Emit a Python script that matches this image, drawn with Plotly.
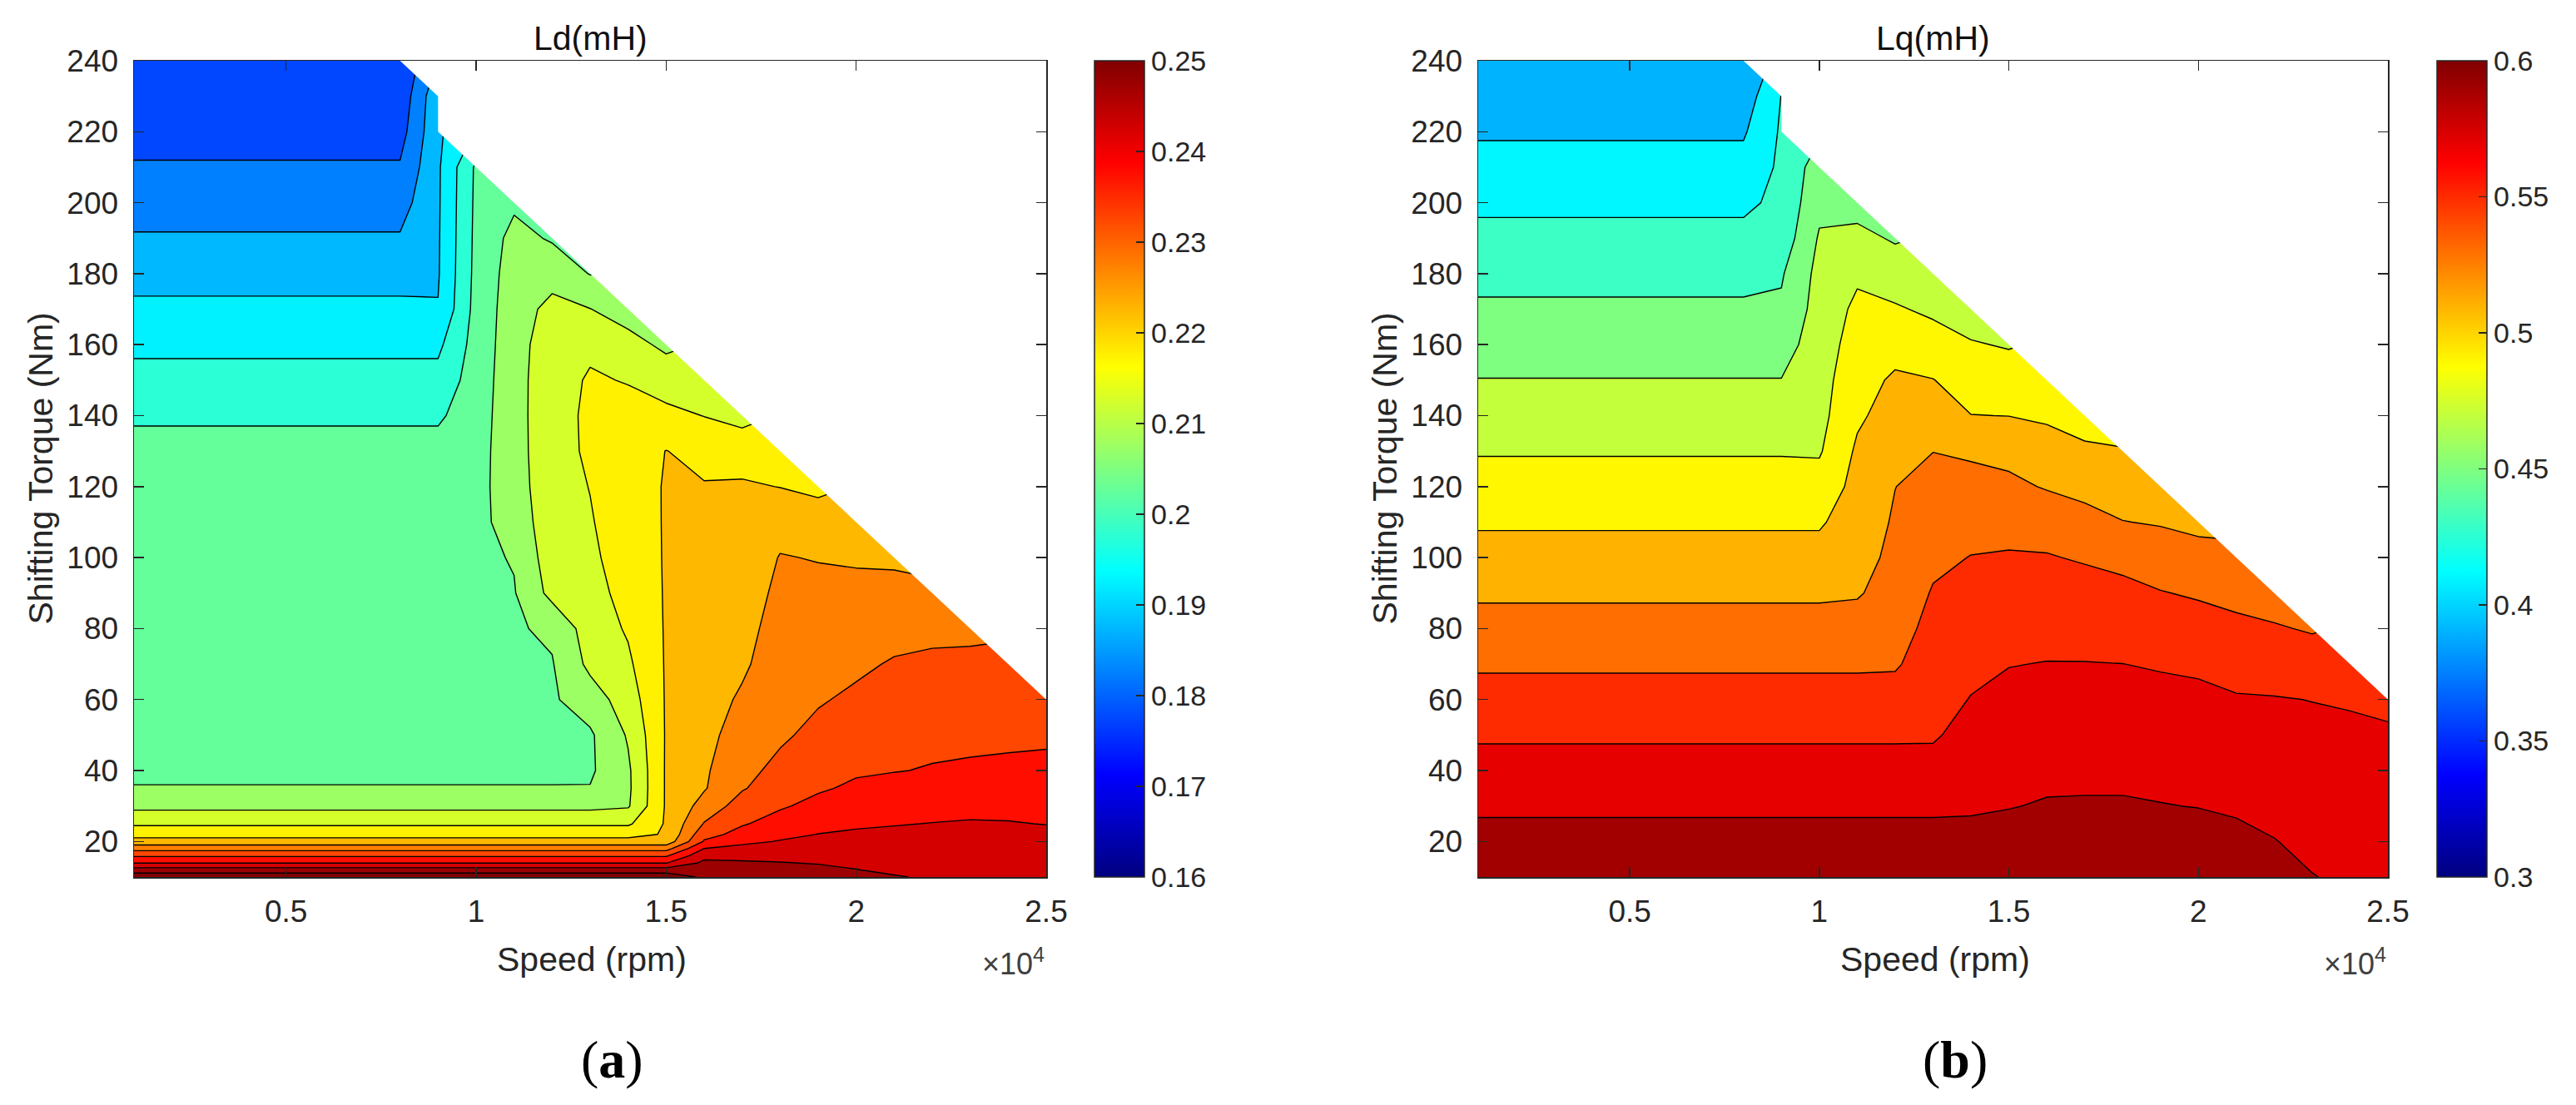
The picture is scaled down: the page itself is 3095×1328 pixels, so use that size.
import plotly.graph_objects as go

# ---------------- data ----------------
speeds = [1000, 8000, 9000, 10000, 11000, 12000, 13000, 14000, 15000, 16000,
          17000, 18000, 19000, 20000, 21000, 22000, 23000, 24000, 25000]
torque_limit = [240, 240, 230, 210, 200, 190, 180, 170, 160, 150,
                140, 130, 120, 110, 100, 90, 80, 70, 60]

ld_torques = [10, 12, 14, 16, 18, 20, 22, 25, 30, 35, 40, 50, 60, 70, 80, 90, 100,
              110, 120, 130, 140, 150, 160, 170, 180, 190, 200, 210, 220, 230, 240]
lq_torques = [10, 20, 30, 40, 50, 60, 70, 80, 90, 100, 110, 120, 130, 140, 150,
              160, 170, 180, 190, 200, 210, 220, 230, 240]

# Ld (mH), one list per speed column, from 10 Nm up to the torque limit
ld_1000 = [0.2535, 0.2473, 0.2397, 0.2344, 0.2282, 0.2219, 0.2183, 0.2143, 0.2087, 0.2051,
           0.2046, 0.2044, 0.2041, 0.2038, 0.2035, 0.2032, 0.2029, 0.2026, 0.2022, 0.2018,
           0.19925, 0.19665, 0.19393, 0.19104, 0.18822, 0.18544, 0.18294, 0.18049, 0.1780, 0.1765, 0.1755]
ld_8000 = [0.2535, 0.2473, 0.2397, 0.2344, 0.2282, 0.2219, 0.2183, 0.2143, 0.2087, 0.2051,
           0.2046, 0.2044, 0.2041, 0.2038, 0.2035, 0.2032, 0.2029, 0.2026, 0.2022, 0.2018,
           0.19925, 0.19665, 0.19393, 0.19104, 0.18822, 0.18544, 0.18294, 0.18049, 0.1780, 0.1765, 0.1755]
ld_9000 = [0.2535, 0.2473, 0.2397, 0.2344, 0.2282, 0.2219, 0.2183, 0.2143, 0.2087, 0.2051,
           0.2046, 0.2044, 0.2041, 0.2038, 0.2035, 0.2032, 0.2029, 0.2026, 0.2022, 0.2018,
           0.19925, 0.19665, 0.19393, 0.1902, 0.1896, 0.1895, 0.1894, 0.1893, 0.1891, 0.1889]
ld_10000 = [0.2535, 0.2473, 0.2397, 0.2344, 0.2282, 0.2219, 0.2183, 0.2143, 0.2087, 0.2051,
            0.2046, 0.2045, 0.2044, 0.2043, 0.2042, 0.2041, 0.2040, 0.2038, 0.2035, 0.2032,
            0.2028, 0.2024, 0.2020, 0.2017, 0.2014, 0.2012, 0.2010, 0.2008]
ld_11000 = [0.2535, 0.2473, 0.2397, 0.2344, 0.2282, 0.2219, 0.2183, 0.2143, 0.2087, 0.2051,
            0.2046, 0.2045, 0.2044, 0.2044, 0.2045, 0.2047, 0.2053, 0.2068, 0.2076, 0.2079,
            0.2080, 0.2080, 0.2079, 0.2077, 0.2073, 0.2065, 0.2042]
ld_12000 = [0.2535, 0.2473, 0.2397, 0.2344, 0.2282, 0.2219, 0.2183, 0.2143, 0.2087, 0.2051,
            0.2046, 0.2044, 0.2044, 0.2047, 0.2058, 0.2115, 0.2128, 0.2132, 0.2134, 0.2135,
            0.2135, 0.2134, 0.2129, 0.2114, 0.2082, 0.2045]
ld_13000 = [0.2535, 0.2473, 0.2397, 0.2344, 0.2282, 0.2219, 0.2183, 0.2143, 0.2087, 0.2052,
            0.2043, 0.2043, 0.2075, 0.2112, 0.2125, 0.2135, 0.2142, 0.2147, 0.2151, 0.2156,
            0.2157, 0.2154, 0.2143, 0.2101, 0.2048]
ld_14000 = [0.2535, 0.2473, 0.2397, 0.2344, 0.2282, 0.2219, 0.2183, 0.2143, 0.2095, 0.2091,
            0.2092, 0.2105, 0.2125, 0.2142, 0.2155, 0.2164, 0.2170, 0.2173, 0.2174, 0.2171,
            0.2163, 0.2148, 0.2117, 0.2078]
ld_15000 = [0.2535, 0.2473, 0.2397, 0.2344, 0.2282, 0.2219, 0.2205, 0.2205, 0.2205, 0.2205,
            0.2205, 0.2204, 0.2204, 0.2204, 0.2204, 0.2204, 0.2204, 0.2204, 0.2204, 0.2201,
            0.2162, 0.2128, 0.2090]
ld_16000 = [0.2490, 0.2475, 0.2460, 0.2436, 0.2401, 0.2355, 0.2333, 0.2303, 0.2269, 0.2246,
            0.2243, 0.2235, 0.2228, 0.2222, 0.2217, 0.2213, 0.2210, 0.2207, 0.2203, 0.2185,
            0.2149, 0.2115]
ld_17000 = [0.2488, 0.2474, 0.2457, 0.2432, 0.2414, 0.2389, 0.2366, 0.2346, 0.2322, 0.2296,
            0.2287, 0.2272, 0.2257, 0.2242, 0.2235, 0.2228, 0.2222, 0.2215, 0.2206, 0.2178,
            0.2135]
ld_18000 = [0.2485, 0.2470, 0.2452, 0.2434, 0.2417, 0.2403, 0.2388, 0.2368, 0.2345, 0.2326,
            0.2312, 0.2293, 0.2285, 0.2277, 0.2268, 0.2260, 0.2252, 0.2235, 0.2199, 0.2175]
ld_19000 = [0.2475, 0.2462, 0.2447, 0.2433, 0.2418, 0.2408, 0.2401, 0.2386, 0.2362, 0.2345,
            0.2335, 0.2312, 0.2296, 0.2285, 0.2274, 0.2262, 0.2248, 0.2222, 0.2190]
ld_20000 = [0.2463, 0.2451, 0.2442, 0.2432, 0.2422, 0.2413, 0.2405, 0.2395, 0.2376, 0.2357,
            0.2345, 0.2327, 0.2308, 0.2292, 0.2278, 0.2262, 0.2245, 0.2225]
ld_21000 = [0.2453, 0.2443, 0.2435, 0.2428, 0.2421, 0.2414, 0.2408, 0.2398, 0.2383, 0.2368,
            0.2348, 0.2335, 0.2322, 0.2304, 0.2285, 0.2265, 0.2242]
ld_22000 = [0.2445, 0.2439, 0.2433, 0.2427, 0.2421, 0.2415, 0.2409, 0.2401, 0.2386, 0.2370,
            0.2353, 0.2338, 0.2328, 0.2312, 0.2285, 0.2255]
ld_23000 = [0.2442, 0.2437, 0.2432, 0.2427, 0.2422, 0.2416, 0.2411, 0.2403, 0.2390, 0.2375,
            0.2356, 0.2340, 0.2326, 0.2310, 0.2290]
ld_24000 = [0.2440, 0.2436, 0.2431, 0.2426, 0.2421, 0.2416, 0.2411, 0.2402, 0.2390, 0.2376,
            0.2358, 0.2342, 0.2330, 0.2315]
ld_25000 = [0.2438, 0.2434, 0.2430, 0.2425, 0.2420, 0.2415, 0.2410, 0.2399, 0.2391, 0.2379,
            0.2362, 0.2342, 0.2332]

# Lq (mH), one list per speed column, from 10 Nm up to the torque limit
lq_1000 = [0.5962, 0.5865, 0.5769, 0.5673, 0.5576, 0.5475, 0.5374, 0.5272, 0.5172, 0.5074, 0.4977, 0.4881,
           0.4786, 0.4695, 0.4605, 0.4517, 0.4430, 0.4342, 0.4253, 0.4162, 0.4069, 0.3977, 0.3890, 0.3805]
lq_8000 = [0.5962, 0.5865, 0.5769, 0.5673, 0.5576, 0.5475, 0.5374, 0.5272, 0.5172, 0.5074, 0.4977, 0.4881,
           0.4786, 0.4695, 0.4605, 0.4517, 0.4430, 0.4342, 0.4253, 0.4162, 0.4069, 0.3977, 0.3890, 0.3805]
lq_9000 = [0.5962, 0.5865, 0.5769, 0.5673, 0.5576, 0.5475, 0.5374, 0.5272, 0.5172, 0.5074, 0.4977, 0.4881,
           0.4786, 0.4695, 0.4605, 0.4517, 0.4430, 0.4380, 0.4280, 0.4245, 0.4235, 0.4225, 0.4205]
lq_10000 = [0.5962, 0.5865, 0.5769, 0.5673, 0.5576, 0.5475, 0.5374, 0.5272, 0.5172, 0.5074, 0.4977, 0.4881,
            0.4780, 0.4740, 0.4720, 0.4700, 0.4680, 0.4660, 0.4620, 0.4550, 0.4500]
lq_11000 = [0.5962, 0.5865, 0.5769, 0.5673, 0.5576, 0.5475, 0.5374, 0.5272, 0.5185, 0.5140, 0.5100, 0.5060,
            0.5030, 0.4970, 0.4935, 0.4885, 0.4840, 0.4770, 0.4650, 0.4530]
lq_12000 = [0.5962, 0.5865, 0.5769, 0.5673, 0.5576, 0.5475, 0.5380, 0.5320, 0.5270, 0.5240, 0.5220, 0.5198,
            0.5140, 0.5080, 0.5025, 0.4940, 0.4820, 0.4700, 0.4580]
lq_13000 = [0.5962, 0.5865, 0.5769, 0.5673, 0.5578, 0.5530, 0.5495, 0.5460, 0.5415, 0.5360, 0.5310, 0.5255,
            0.5198, 0.5105, 0.5005, 0.4885, 0.4765, 0.4655]
lq_14000 = [0.5962, 0.5865, 0.5775, 0.5735, 0.5670, 0.5607, 0.5555, 0.5505, 0.5455, 0.5405, 0.5338, 0.5262,
            0.5174, 0.5003, 0.4915, 0.4815, 0.4705]
lq_15000 = [0.5965, 0.5885, 0.5792, 0.5745, 0.5695, 0.5645, 0.5595, 0.5535, 0.5475, 0.5415, 0.5345, 0.5245,
            0.5140, 0.4998, 0.4895, 0.4785]
lq_16000 = [0.5980, 0.5905, 0.5815, 0.5755, 0.5705, 0.5655, 0.5605, 0.5545, 0.5475, 0.5410, 0.5335, 0.5185,
            0.5075, 0.4975, 0.4875]
lq_17000 = [0.5985, 0.5910, 0.5815, 0.5765, 0.5715, 0.5665, 0.5605, 0.5535, 0.5465, 0.5385, 0.5265, 0.5145,
            0.5030, 0.4925]
lq_18000 = [0.5985, 0.5910, 0.5815, 0.5765, 0.5715, 0.5655, 0.5601, 0.5525, 0.5445, 0.5355, 0.5205, 0.5105,
            0.5005]
lq_19000 = [0.5975, 0.5905, 0.5806, 0.5748, 0.5695, 0.5642, 0.5588, 0.5515, 0.5408, 0.5308, 0.5185, 0.5065]
lq_20000 = [0.5965, 0.5885, 0.5795, 0.5728, 0.5680, 0.5635, 0.5575, 0.5478, 0.5380, 0.5265, 0.5155]
lq_21000 = [0.5945, 0.5855, 0.5772, 0.5705, 0.5665, 0.5612, 0.5545, 0.5445, 0.5345, 0.5225]
lq_22000 = [0.5905, 0.5805, 0.5756, 0.5707, 0.5658, 0.5609, 0.5518, 0.5416, 0.5320]
lq_23000 = [0.5805, 0.5763, 0.5721, 0.5680, 0.5639, 0.5597, 0.5489, 0.5384]
lq_24000 = [0.5775, 0.5740, 0.5705, 0.5670, 0.5632, 0.5585, 0.5520]
lq_25000 = [0.5755, 0.5725, 0.5690, 0.5655, 0.5615, 0.5575]

ld_columns = [ld_1000, ld_8000, ld_9000, ld_10000, ld_11000, ld_12000, ld_13000, ld_14000,
              ld_15000, ld_16000, ld_17000, ld_18000, ld_19000, ld_20000, ld_21000, ld_22000,
              ld_23000, ld_24000, ld_25000]
lq_columns = [lq_1000, lq_8000, lq_9000, lq_10000, lq_11000, lq_12000, lq_13000, lq_14000,
              lq_15000, lq_16000, lq_17000, lq_18000, lq_19000, lq_20000, lq_21000, lq_22000,
              lq_23000, lq_24000, lq_25000]

ld_levels = (0.175, 0.25, 0.005)
lq_levels = (0.38, 0.58, 0.02)
ld_cbar_ticks = [0.16, 0.17, 0.18, 0.19, 0.2, 0.21, 0.22, 0.23, 0.24, 0.25]
ld_cbar_text = ["0.16", "0.17", "0.18", "0.19", "0.2", "0.21", "0.22", "0.23", "0.24", "0.25"]
lq_cbar_ticks = [0.3, 0.35, 0.4, 0.45, 0.5, 0.55, 0.6]
lq_cbar_text = ["0.3", "0.35", "0.4", "0.45", "0.5", "0.55", "0.6"]
speed_tick_vals = [5000, 10000, 15000, 20000, 25000]
speed_tick_text = ["0.5", "1", "1.5", "2", "2.5"]
torque_ticks = [20, 40, 60, 80, 100, 120, 140, 160, 180, 200, 220, 240]
titles = ["Ld(mH)", "Lq(mH)"]
panel_labels = ["a", "b"]

# ---------------- helpers ----------------
W, H = 3095, 1328


def jet(t):
    t = min(max(t, 0.0), 1.0)
    r = min(max(min(4 * t - 1.5, -4 * t + 4.5), 0.0), 1.0)
    g = min(max(min(4 * t - 0.5, -4 * t + 3.5), 0.0), 1.0)
    b = min(max(min(4 * t + 0.5, -4 * t + 2.5), 0.0), 1.0)
    return "rgb(%d,%d,%d)" % (round(r * 255), round(g * 255), round(b * 255))


JET = [[p, jet(p)] for p in (0, 0.125, 0.375, 0.625, 0.875, 1)]


def band_scale(levels, cmin, cmax, n=300):
    start, end, size = levels
    lo, hi = start - size / 2, end + size / 2
    return [[i / n, jet((lo + (hi - lo) * i / n - cmin) / (cmax - cmin))] for i in range(n + 1)]


def grid(columns, torques):
    for s, col, lim in zip(speeds, columns, torque_limit):
        assert len(col) == len([t for t in torques if t <= lim]), (s, len(col))
    return [[col[i] if i < len(col) else None for col in columns] for i in range(len(torques))]


def outline(step=10):
    xs, ys = [], []
    for i, (s, lim) in enumerate(zip(speeds, torque_limit)):
        if i > 0 and torque_limit[i - 1] - lim > step:
            xs.append(speeds[i - 1])
            ys.append(lim + step)
        xs.append(s)
        ys.append(lim)
    xs.append(speeds[-1])
    ys.append(max(torque_limit))
    return xs, ys


FONT = "Liberation Sans, Arial, sans-serif"
TXT = "#262626"

panels = [
    dict(cols=ld_columns, torques=ld_torques, levels=ld_levels, cmin=0.16, cmax=0.25,
         ticks=ld_cbar_ticks, ticktext=ld_cbar_text, px=(161, 1257), cb=1315, ax=""),
    dict(cols=lq_columns, torques=lq_torques, levels=lq_levels, cmin=0.3, cmax=0.6,
         ticks=lq_cbar_ticks, ticktext=lq_cbar_text, px=(1776, 2869), cb=2928, ax="2"),
]
TOP, BOT = 73, 1054

fig = go.Figure()
annotations = []
mx, my = outline()
for k, p in enumerate(panels):
    xa, ya = "x" + p["ax"], "y" + p["ax"]
    start, end, size = p["levels"]
    fig.add_trace(go.Contour(
        x=speeds, y=p["torques"], z=grid(p["cols"], p["torques"]),
        xaxis=xa, yaxis=ya,
        autocontour=False,
        contours=dict(start=start, end=end, size=size, coloring="fill", showlines=True),
        colorscale=band_scale(p["levels"], p["cmin"], p["cmax"]),
        line=dict(color="black", width=1.4, smoothing=0),
        showscale=False, hoverinfo="skip",
    ))
    # white area outside the operating region (above the torque limit)
    fig.add_trace(go.Scatter(
        x=mx, y=my, xaxis=xa, yaxis=ya, mode="lines", fill="toself",
        fillcolor="white", line=dict(width=0, color="white"), hoverinfo="skip",
        showlegend=False,
    ))
    # continuous jet colour bar
    fig.add_trace(go.Scatter(
        x=[None, None], y=[None, None], xaxis=xa, yaxis=ya, mode="markers",
        showlegend=False, hoverinfo="skip",
        marker=dict(color=[p["cmin"], p["cmax"]], cmin=p["cmin"], cmax=p["cmax"],
                    colorscale=JET, showscale=True,
                    colorbar=dict(
                        x=p["cb"] / W, xanchor="left", xpad=0, ypad=0,
                        y=1 - BOT / H, yanchor="bottom", len=(BOT - TOP) / H, lenmode="fraction",
                        thickness=60, thicknessmode="pixels",
                        outlinewidth=1.5, outlinecolor=TXT,
                        ticks="inside", ticklen=10, tickwidth=1.5, tickcolor=TXT,
                        tickvals=p["ticks"], ticktext=p["ticktext"],
                        tickfont=dict(family=FONT, size=34, color=TXT),
                    )),
    ))
    x0, x1 = p["px"]
    axis_common = dict(showline=True, linecolor=TXT, linewidth=1.5, mirror="ticks",
                       ticks="inside", ticklen=12, tickwidth=1.5, tickcolor=TXT,
                       showgrid=False, zeroline=False, automargin=False,
                       tickfont=dict(family=FONT, size=37, color=TXT))
    fig.update_layout(**{
        "xaxis" + p["ax"]: dict(domain=[x0 / W, x1 / W], anchor=ya, range=[speeds[0], speeds[-1]],
                                tickvals=speed_tick_vals, ticktext=speed_tick_text,
                                ticklabelstandoff=8, **axis_common),
        "yaxis" + p["ax"]: dict(domain=[1 - BOT / H, 1 - TOP / H], anchor=xa,
                                range=[ld_torques[0], max(torque_limit)],
                                tickvals=torque_ticks, ticklabelstandoff=10, **axis_common),
    })
    cx = (x0 + x1) / 2
    annotations += [
        dict(text=titles[k], x=cx / W, y=1 - 46 / H, xref="paper", yref="paper",
             xanchor="center", yanchor="middle", showarrow=False,
             font=dict(family=FONT, size=41, color="#111111")),
        dict(text="Speed (rpm)", x=(cx + 2) / W, y=1 - 1153 / H, xref="paper", yref="paper",
             xanchor="center", yanchor="middle", showarrow=False,
             font=dict(family=FONT, size=41, color=TXT)),
        dict(text="×10<sup>4</sup>", x=x1 / W, y=1 - 1156 / H, xref="paper", yref="paper",
             xanchor="right", yanchor="middle", showarrow=False,
             font=dict(family=FONT, size=36, color="#404040")),
        dict(text="Shifting Torque (Nm)", x=(x0 - 113) / W, y=1 - (TOP + BOT) / 2 / H,
             xref="paper", yref="paper", xanchor="center", yanchor="middle",
             textangle=-90, showarrow=False, font=dict(family=FONT, size=41, color=TXT)),
        dict(text="(<b>%s</b>)" % panel_labels[k], x=(cx + 26) / W, y=1 - 1273 / H,
             xref="paper", yref="paper", xanchor="center", yanchor="middle", showarrow=False,
             font=dict(family="Liberation Serif, Times New Roman, serif", size=64, color="black")),
    ]

fig.update_layout(
    width=W, height=H, margin=dict(l=0, r=0, t=0, b=0, autoexpand=False),
    paper_bgcolor="white", plot_bgcolor="white", showlegend=False,
    annotations=annotations,
)
fig.write_html("out.html", config={"displayModeBar": False, "staticPlot": True},
               post_script="document.body.style.margin='0px';document.body.style.overflow='hidden';")
